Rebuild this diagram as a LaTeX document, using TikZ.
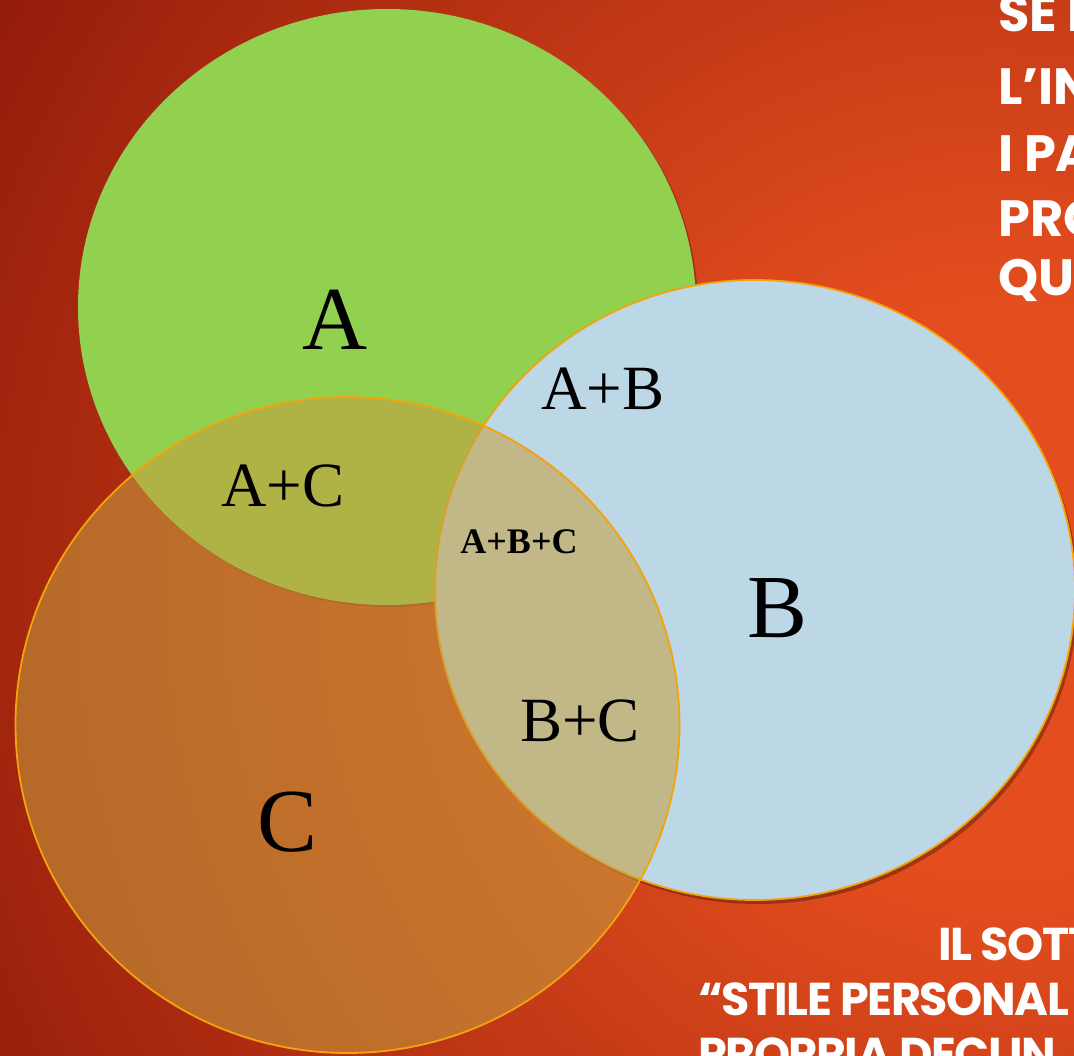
\documentclass[tikz,border=0pt]{standalone}
\usepackage{fontspec}
\setmainfont{Liberation Serif}
\setsansfont{Poppins}
\begin{document}
\definecolor{bgin}{RGB}{228,78,30}
\definecolor{bgout}{RGB}{146,27,10}
\definecolor{agreen}{RGB}{146,208,80}
\definecolor{bblue}{RGB}{188,215,229}
\definecolor{corange}{RGB}{198,158,62}
\definecolor{rimor}{RGB}{244,164,10}
\pgfdeclareradialshading{bgshade}{\pgfpoint{0bp}{0bp}}{color(0bp)=(bgin); color(6bp)=(bgin); color(25bp)=(bgout); color(50bp)=(bgout)}
\begin{tikzpicture}[x=1pt,y=-1pt,
  lbl/.style={inner sep=0pt,anchor=base,text=black},
  big/.style={lbl,font=\fontsize{90}{90}\selectfont},
  mid/.style={lbl,font=\fontsize{63}{63}\selectfont},
  sml/.style={lbl,font=\bfseries\fontsize{36}{36}\selectfont},
  side/.style={inner sep=0pt,anchor=base west,text=white,font=\sffamily\bfseries\fontsize{51}{51}\selectfont},
  side2/.style={side,font=\sffamily\bfseries\fontsize{46}{46}\selectfont\addfontfeature{LetterSpace=-3}},
  rim/.style={draw=rimor,line width=1.8pt}]
\useasboundingbox (0,0) rectangle (1074,1056);
\clip (0,0) rectangle (1074,1056);
% background
\shade[shading=bgshade] (1000,590) circle (1180);
% circle A (green)
\fill[black,opacity=0.25] (389,309) ellipse [x radius=309,y radius=298];
\fill[agreen] (387,307) ellipse [x radius=309,y radius=298];
% circle B (blue)
\fill[black,opacity=0.3] (758,594) ellipse [x radius=320,y radius=310];
\fill[bblue] (755,590) ellipse [x radius=320,y radius=310];
\draw[rim] (755,590) ellipse [x radius=320,y radius=310];
% circle C (orange, translucent)
\fill[corange,fill opacity=0.56] (347.5,725) ellipse [x radius=332,y radius=328];
\draw[rim] (347.5,725) ellipse [x radius=332,y radius=328];
% labels
\node[big] (tA) at (335,350) {A};
\node[big] (tB) at (778,637) {B};
\node[big] (tC) at (288,851) {C};
\node[mid] (tAB) at (603,410) {A+B};
\node[mid] (tAC) at (283,506) {A+C};
\node[mid] (tBC) at (580,741) {B+C};
\node[sml] (tABC) at (519,553) {A+B+C};
% side texts
\node[side] (s1) at (998,32) {SE I};
\node[side] (s2) at (998,105) {L’IN};
\node[side] (s3) at (998,172) {I PA};
\node[side] (s4) at (998,237) {PRO};
\node[side] (s5) at (998,296) {QU};
\node[side2] (b1) at (938,960) {IL SOTT};
\node[side2] (b2) at (698,1015) {“STILE PERSONAL};
\node[side2] (b3) at (698,1070) {PROPRIA DECLIN};
\end{tikzpicture}
\end{document}
